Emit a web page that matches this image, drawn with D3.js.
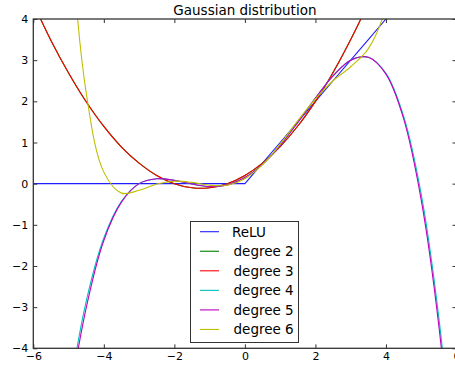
<!DOCTYPE html>
<html>
<head>
<meta charset="utf-8">
<script src="https://cdn.jsdelivr.net/npm/d3@7"></script>
<style>
  body { margin: 0; background: #fff; }
  text { font-family: "DejaVu Sans", sans-serif; fill: #000; }
</style>
</head>
<body>
<script>
// sample positions along x
var xs     = [-6, -5.5, -5, -4.5, -4, -3.5, -3, -2.5, -2, -1.5, -1, -0.5, 0, 0.5, 1, 1.5, 2, 2.5, 3, 3.5, 4, 4.5, 5, 5.5, 6];
var relu   = [0, 0, 0, 0, 0, 0, 0, 0, 0, 0, 0, 0, 0, 0.5, 1, 1.5, 2, 2.5, 3, 3.5, 4, 4.5, 5, 5.5, 6];
var deg2   = [4.38, 3.48, 2.69, 1.99, 1.39, 0.89, 0.50, 0.20, 0.00, -0.10, -0.10, 0.00, 0.20, 0.50, 0.90, 1.40, 2.00, 2.70, 3.50, 4.39, 5.39, 6.49, 7.69, 8.98, 10.38];
var deg3   = [4.38, 3.48, 2.69, 1.99, 1.39, 0.89, 0.50, 0.20, 0.00, -0.10, -0.10, 0.00, 0.20, 0.50, 0.90, 1.40, 2.00, 2.70, 3.50, 4.39, 5.39, 6.49, 7.69, 8.98, 10.38];
var deg4   = [-13.62, -8.76, -5.26, -2.86, -1.32, -0.43, 0.00, 0.12, 0.08, -0.01, -0.07, -0.03, 0.15, 0.47, 0.93, 1.49, 2.08, 2.62, 3.00, 3.07, 2.68, 1.64, -0.26, -3.26, -7.62];
var deg5   = [-14.00, -9.05, -5.48, -3.02, -1.38, -0.45, 0.00, 0.12, 0.08, -0.01, -0.07, -0.03, 0.15, 0.47, 0.93, 1.49, 2.08, 2.62, 3.00, 3.07, 2.66, 1.58, -0.40, -3.46, -7.95];
var deg6   = [34.3, 16.67, 6.97, 2.21, 0.28, -0.23, -0.16, -0.01, 0.06, 0.03, -0.04, -0.04, 0.12, 0.46, 0.96, 1.53, 2.06, 2.50, 2.84, 3.28, 4.28, 6.71, 11.97, 22.17, 40.3];
var seriesNames  = ["ReLU", "degree 2", "degree 3", "degree 4", "degree 5", "degree 6"];
var seriesValues = [relu, deg2, deg3, deg4, deg5, deg6];
var seriesColors = ["#2020ff", "#008000", "#ff0000", "#00bfbf", "#bf00bf", "#bfbf00"];
var xTicks = [-6, -4, -2, 0, 2, 4, 6];
var yTicks = [-4, -3, -2, -1, 0, 1, 2, 3, 4];

var w = 455, h = 365;
var padLeft = 33.3, padRight = 456.5, padTop = 19, padBottom = 348.3;

var svg = d3.select("body").append("svg")
  .attr("width", w)
  .attr("height", h);

var xScale = d3.scaleLinear().domain([-6, 6]).range([padLeft, padRight]);
var yScale = d3.scaleLinear().domain([-4, 4]).range([padBottom, padTop]);

svg.append("clipPath").attr("id", "plotclip")
  .append("rect")
  .attr("x", padLeft).attr("y", padTop)
  .attr("width", padRight - padLeft).attr("height", padBottom - padTop);

//draw the curves
var line = d3.line()
  .x(function(d) { return xScale(d[0]); })
  .y(function(d) { return yScale(d[1]); })
  .curve(d3.curveCatmullRom.alpha(0.5));

var lineLinear = d3.line()
  .x(function(d) { return xScale(d[0]); })
  .y(function(d) { return yScale(d[1]); });

var plot = svg.append("g").attr("clip-path", "url(#plotclip)");
seriesValues.forEach(function(vals, i) {
  var pts = xs.map(function(x, j) { return [x, vals[j]]; });
  plot.append("path")
    .attr("d", i == 0 ? lineLinear(pts) : line(pts))
    .attr("fill", "none")
    .attr("stroke", seriesColors[i])
    .attr("stroke-width", 1.1);
});

//axes, ticks pointing inward
var fmt = d3.format("d");
svg.append("g")
  .attr("transform", "translate(0," + padBottom + ")")
  .call(d3.axisBottom(xScale).tickValues(xTicks).tickSize(-4).tickPadding(4).tickFormat(fmt));
svg.append("g")
  .attr("transform", "translate(0," + padTop + ")")
  .call(d3.axisTop(xScale).tickValues(xTicks).tickSize(-4).tickFormat(""));
svg.append("g")
  .attr("transform", "translate(" + padLeft + ",0)")
  .call(d3.axisLeft(yScale).tickValues(yTicks).tickSize(-4).tickPadding(5).tickFormat(fmt));
svg.append("g")
  .attr("transform", "translate(" + padRight + ",0)")
  .call(d3.axisRight(yScale).tickValues(yTicks).tickSize(-4).tickFormat(""));

svg.selectAll(".domain").remove();
svg.selectAll(".tick line").attr("stroke", "#333").attr("stroke-width", 1);
svg.selectAll(".tick text")
  .style("font-family", "DejaVu Sans")
  .style("font-size", "11px")
  .attr("fill", "#000");

svg.append("rect")
  .attr("x", padLeft).attr("y", padTop)
  .attr("width", padRight - padLeft).attr("height", padBottom - padTop)
  .attr("fill", "none")
  .attr("stroke", "#333")
  .attr("stroke-width", 1.3);

svg.append("text")
  .attr("x", (padLeft + padRight) / 2)
  .attr("y", 15)
  .attr("text-anchor", "middle")
  .style("font-size", "13.5px")
  .text("Gaussian distribution");

// legend
var legend = svg.append("g");
legend.append("rect")
  .attr("x", 190.5).attr("y", 221.5)
  .attr("width", 108).attr("height", 121)
  .attr("fill", "#fff")
  .attr("stroke", "#333")
  .attr("stroke-width", 1);
seriesNames.forEach(function(name, i) {
  var yy = 231.7 + i * 19.55;
  legend.append("line")
    .attr("x1", 200).attr("x2", 219)
    .attr("y1", yy).attr("y2", yy)
    .attr("stroke", seriesColors[i])
    .attr("stroke-width", 1.1);
  legend.append("text")
    .attr("x", i == 0 ? 232 : 233.5)
    .attr("y", yy)
    .attr("dy", "0.36em")
    .style("font-size", "13.5px")
    .text(name);
});
</script>
</body>
</html>
